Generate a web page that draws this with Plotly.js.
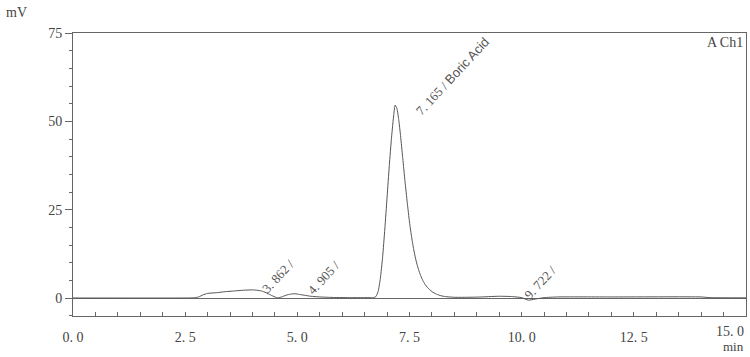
<!DOCTYPE html>
<html>
<head>
<meta charset="utf-8">
<script src="https://cdn.plot.ly/plotly-3.0.1.min.js"></script>
<style>html,body{margin:0;padding:0;background:#fff;}#chart{width:750px;height:357px;}</style>
</head>
<body>
<div id="chart"></div>
<script>
// retention time (min)
var timeMin = [0, 2.5, 2.7, 2.8, 2.9, 3.0, 3.2, 3.4, 3.6, 3.8, 4.0, 4.1, 4.2, 4.3, 4.4, 4.5, 4.57, 4.65, 4.75, 4.85, 4.95, 5.05, 5.15, 5.3, 5.5, 5.8, 6.2, 6.6,
  6.7, 6.75, 6.8, 6.85, 6.9, 6.95, 7.0, 7.05, 7.1, 7.15, 7.18, 7.22, 7.26, 7.3, 7.35, 7.4, 7.45, 7.5, 7.55, 7.6, 7.65, 7.7, 7.75, 7.8, 7.85, 7.9, 8.0, 8.1, 8.2, 8.3, 8.5,
  9.0, 9.5, 9.8, 10.0, 10.15, 10.3, 10.5, 10.8, 12.0, 14.0, 14.2, 15.0];
// detector signal (mV)
var signalMv = [0, 0, 0.05, 0.3, 0.9, 1.3, 1.5, 1.8, 2.0, 2.2, 2.3, 2.2, 2.0, 1.5, 0.9, 0.3, 0.05, 0.3, 0.8, 1.1, 1.2, 1.0, 0.8, 0.5, 0.3, 0.15, 0.1, 0.1,
  0.1, 0.4, 1.8, 5.5, 11.5, 19.5, 28.5, 37.5, 45.5, 52, 54.6, 53.6, 50.5, 46, 39.5, 33, 27, 21.5, 17, 13.3, 10.4, 8.1, 6.3, 4.9, 3.8, 3.0, 1.8, 1.1, 0.65, 0.4, 0.2,
  0.25, 0.5, 0.4, 0.1, -0.6, -0.3, 0.1, 0.3, 0.3, 0.3, 0.1, 0.05];

// peak labels
var peakLabelX = [4.56, 5.59, 8.45, 10.41];
var peakLabelY = [6.2, 5.7, 62.8, 4.5];
var peakLabels = ['3. 862 /', '4. 905 /', '7. 165 / <span style="font-family:Liberation Sans, Arial, sans-serif">Boric Acid</span>', '9. 722 /'];

var xTickVals = [0, 2.5, 5, 7.5, 10, 12.5, 15];
var xTickText = ['0. 0', '2. 5', '5. 0', '7. 5', '10. 0', '12. 5', ''];
var lastXTickText = '15. 0';
var yTickVals = [0, 25, 50, 75];
var yTickText = ['0', '25', '50', '75'];

var txtColor = '#444';
var axColor = '#666';
var serif = 'Liberation Serif, DejaVu Serif, serif';

var trace = {
  x: timeMin, y: signalMv, type: 'scatter', mode: 'lines',
  line: {color: '#555', width: 1, shape: 'spline', smoothing: 0.5},
  hoverinfo: 'skip'
};

var annotations = peakLabels.map(function(t, i) {
  return {x: peakLabelX[i], y: peakLabelY[i], xref: 'x', yref: 'y', text: t, showarrow: false,
    textangle: -47, xanchor: 'center', yanchor: 'middle',
    font: {family: serif, size: 13, color: '#555'}};
});
annotations.push({xref: 'paper', yref: 'paper', x: -0.1025, y: 1.072, xanchor: 'left', yanchor: 'middle', text: 'mV', showarrow: false, font: {family: serif, size: 14, color: txtColor}});
annotations.push({xref: 'paper', yref: 'paper', x: 1.0, y: -0.1413, xanchor: 'right', yanchor: 'bottom', text: 'min', showarrow: false, font: {family: serif, size: 13, color: txtColor}});
annotations.push({xref: 'paper', yref: 'paper', x: 1.0, y: -0.055, xanchor: 'right', yanchor: 'middle', text: lastXTickText, showarrow: false, font: {family: serif, size: 14, color: txtColor}});
annotations.push({xref: 'paper', yref: 'paper', x: 0.999, y: 0.966, xanchor: 'right', yanchor: 'middle', text: 'A Ch1', showarrow: false, font: {family: serif, size: 14, color: txtColor}});

var layout = {
  width: 750, height: 357,
  margin: {l: 73, r: 4, t: 33, b: 41},
  paper_bgcolor: '#fff', plot_bgcolor: '#fff',
  showlegend: false,
  xaxis: {
    range: [0, 15], showgrid: false, zeroline: false,
    showline: true, linecolor: axColor, linewidth: 1, mirror: true,
    tickmode: 'array', tickvals: xTickVals, ticktext: xTickText,
    ticks: 'inside', ticklen: 4, tickcolor: axColor, tickwidth: 1,
    ticklabelstandoff: 8,
    minor: {dtick: 0.5, ticks: 'inside', ticklen: 4, tickcolor: axColor, tickwidth: 1, showgrid: false},
    tickfont: {family: serif, size: 14, color: txtColor}
  },
  yaxis: {
    range: [-5.09, 75], showgrid: false,
    zeroline: true, zerolinecolor: axColor, zerolinewidth: 1,
    showline: true, linecolor: axColor, linewidth: 1, mirror: true,
    tickmode: 'array', tickvals: yTickVals, ticktext: yTickText,
    ticks: 'outside', ticklen: 7, tickcolor: axColor, tickwidth: 1,
    minor: {dtick: 5, ticks: 'outside', ticklen: 3, tickcolor: axColor, tickwidth: 1, showgrid: false},
    tickfont: {family: serif, size: 14, color: txtColor}
  },
  annotations: annotations
};

Plotly.newPlot('chart', [trace], layout, {staticPlot: true, displayModeBar: false});
</script>
</body>
</html>
